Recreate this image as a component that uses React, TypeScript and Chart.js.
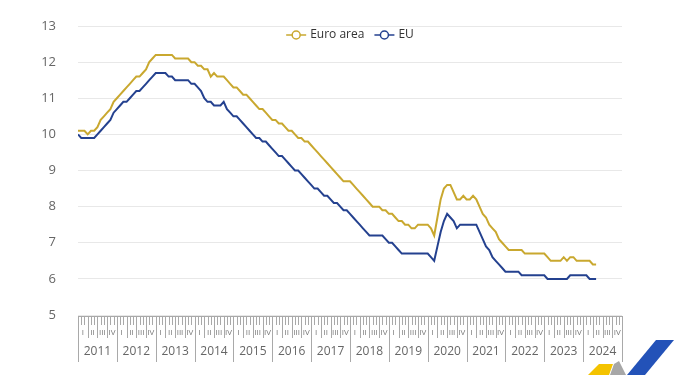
import { useEffect, useRef } from 'react';
import { Chart, registerables } from 'chart.js';

Chart.register(...registerables);

const YEARS = ['2011', '2012', '2013', '2014', '2015', '2016', '2017', '2018', '2019', '2020', '2021', '2022', '2023', '2024'];
const QUARTERS = ['I', 'II', 'III', 'IV'];
const SERIES_NAMES = ['Euro area', 'EU'];
const Y_MIN = 5;
const Y_MAX = 13;

// Monthly unemployment rate, Jan 2011 - May 2024
const EURO_AREA = [
  10.1, 10.1, 10.1, 10.0, 10.1, 10.1, 10.2, 10.4, 10.5, 10.6, 10.7, 10.9,
  11.0, 11.1, 11.2, 11.3, 11.4, 11.5, 11.6, 11.6, 11.7, 11.8, 12.0, 12.1,
  12.2, 12.2, 12.2, 12.2, 12.2, 12.2, 12.1, 12.1, 12.1, 12.1, 12.1, 12.0,
  12.0, 11.9, 11.9, 11.8, 11.8, 11.6, 11.7, 11.6, 11.6, 11.6, 11.5, 11.4,
  11.3, 11.3, 11.2, 11.1, 11.1, 11.0, 10.9, 10.8, 10.7, 10.7, 10.6, 10.5,
  10.4, 10.4, 10.3, 10.3, 10.2, 10.1, 10.1, 10.0, 9.9, 9.9, 9.8, 9.8,
  9.7, 9.6, 9.5, 9.4, 9.3, 9.2, 9.1, 9.0, 8.9, 8.8, 8.7, 8.7,
  8.7, 8.6, 8.5, 8.4, 8.3, 8.2, 8.1, 8.0, 8.0, 8.0, 7.9, 7.9,
  7.8, 7.8, 7.7, 7.6, 7.6, 7.5, 7.5, 7.4, 7.4, 7.5, 7.5, 7.5,
  7.5, 7.4, 7.2, 7.7, 8.2, 8.5, 8.6, 8.6, 8.4, 8.2, 8.2, 8.3,
  8.2, 8.2, 8.3, 8.2, 8.0, 7.8, 7.7, 7.5, 7.4, 7.3, 7.1, 7.0,
  6.9, 6.8, 6.8, 6.8, 6.8, 6.8, 6.7, 6.7, 6.7, 6.7, 6.7, 6.7,
  6.7, 6.6, 6.5, 6.5, 6.5, 6.5, 6.6, 6.5, 6.6, 6.6, 6.5, 6.5,
  6.5, 6.5, 6.5, 6.4, 6.4,
];

const EU = [
  10.0, 9.9, 9.9, 9.9, 9.9, 9.9, 10.0, 10.1, 10.2, 10.3, 10.4, 10.6,
  10.7, 10.8, 10.9, 10.9, 11.0, 11.1, 11.2, 11.2, 11.3, 11.4, 11.5, 11.6,
  11.7, 11.7, 11.7, 11.7, 11.6, 11.6, 11.5, 11.5, 11.5, 11.5, 11.5, 11.4,
  11.4, 11.3, 11.2, 11.0, 10.9, 10.9, 10.8, 10.8, 10.8, 10.9, 10.7, 10.6,
  10.5, 10.5, 10.4, 10.3, 10.2, 10.1, 10.0, 9.9, 9.9, 9.8, 9.8, 9.7,
  9.6, 9.5, 9.4, 9.4, 9.3, 9.2, 9.1, 9.0, 9.0, 8.9, 8.8, 8.7,
  8.6, 8.5, 8.5, 8.4, 8.3, 8.3, 8.2, 8.1, 8.1, 8.0, 7.9, 7.9,
  7.8, 7.7, 7.6, 7.5, 7.4, 7.3, 7.2, 7.2, 7.2, 7.2, 7.2, 7.1,
  7.0, 7.0, 6.9, 6.8, 6.7, 6.7, 6.7, 6.7, 6.7, 6.7, 6.7, 6.7,
  6.7, 6.6, 6.5, 6.9, 7.3, 7.6, 7.8, 7.7, 7.6, 7.4, 7.5, 7.5,
  7.5, 7.5, 7.5, 7.5, 7.3, 7.1, 6.9, 6.8, 6.6, 6.5, 6.4, 6.3,
  6.2, 6.2, 6.2, 6.2, 6.2, 6.1, 6.1, 6.1, 6.1, 6.1, 6.1, 6.1,
  6.1, 6.0, 6.0, 6.0, 6.0, 6.0, 6.0, 6.0, 6.1, 6.1, 6.1, 6.1,
  6.1, 6.1, 6.0, 6.0, 6.0,
];

const EA_COLOR = '#c9a82f';
const EU_COLOR = '#24418f';
const FONT = '"Open Sans", "Noto Sans", sans-serif';

const decorPlugin = {
  id: 'decor',
  afterDraw(chart: any) {
    const ctx = chart.ctx as CanvasRenderingContext2D;
    const xs = chart.scales.x;
    const area = chart.chartArea;
    const top = Math.round(area.bottom) + 1;
    const nMonths = YEARS.length * 12;
    ctx.save();

    // Ruler axis
    ctx.strokeStyle = '#a9a9a9';
    ctx.lineWidth = 1;
    const x0 = Math.round(xs.getPixelForValue(0));
    const x1 = Math.round(xs.getPixelForValue(nMonths));
    ctx.beginPath();
    ctx.moveTo(x0, top + 0.5);
    ctx.lineTo(x1 + 1, top + 0.5);
    ctx.stroke();
    for (let m = 0; m <= nMonths; m++) {
      const x = Math.round(xs.getPixelForValue(m)) + 0.5;
      let len = 9;
      if (m % 12 === 0) len = 46;
      else if (m % 3 === 0) len = 22;
      ctx.beginPath();
      ctx.moveTo(x, top);
      ctx.lineTo(x, top + len);
      ctx.stroke();
    }
    ctx.textAlign = 'center';
    ctx.textBaseline = 'middle';
    ctx.fillStyle = '#777';
    ctx.font = `8px ${FONT}`;
    YEARS.forEach((_, yi) => {
      QUARTERS.forEach((q, qi) => {
        ctx.fillText(q, xs.getPixelForValue(yi * 12 + qi * 3 + 1.5), top + 17);
      });
    });
    ctx.font = `12px ${FONT}`;
    ctx.fillStyle = '#666';
    YEARS.forEach((y, yi) => {
      ctx.fillText(y, xs.getPixelForValue(yi * 12 + 6), top + 36);
    });

    // Legend
    ctx.font = `12px ${FONT}`;
    const ds = chart.data.datasets;
    const mw = 20, gap = 4, sep = 10;
    const widths = ds.map((d: any) => mw + gap + ctx.measureText(d.label).width);
    const total = widths.reduce((a: number, b: number) => a + b, 0) + sep * (ds.length - 1);
    let lx = (area.left + area.right) / 2 - total / 2;
    const ly = 35;
    ds.forEach((d: any, i: number) => {
      ctx.strokeStyle = d.borderColor;
      ctx.lineWidth = 1.5;
      ctx.beginPath();
      ctx.moveTo(lx, ly);
      ctx.lineTo(lx + mw, ly);
      ctx.stroke();
      ctx.beginPath();
      ctx.arc(lx + mw / 2, ly, 4, 0, Math.PI * 2);
      ctx.fillStyle = '#fff';
      ctx.fill();
      ctx.stroke();
      ctx.fillStyle = '#333';
      ctx.textAlign = 'left';
      ctx.fillText(d.label, lx + mw + gap, ly);
      lx += widths[i] + sep;
    });

    // Corner logo
    const poly = (pts: number[][], color: string) => {
      ctx.beginPath();
      ctx.moveTo(pts[0][0], pts[0][1]);
      pts.slice(1).forEach((p) => ctx.lineTo(p[0], p[1]));
      ctx.closePath();
      ctx.fillStyle = color;
      ctx.fill();
    };
    poly([[588, 375], [599, 364], [613, 364], [609, 375]], '#f4c300');
    poly([[610, 375], [614, 364], [619, 361], [626, 375]], '#a7a7a7');
    poly([[656, 340], [674, 340], [645, 375], [627, 375]], '#2352b8');

    ctx.restore();
  },
};

export default function App() {
  const ref = useRef<HTMLCanvasElement>(null);
  useEffect(() => {
    if (!ref.current) return;
    const chart = new Chart(ref.current, {
      type: 'line',
      data: {
        datasets: [
          {
            label: SERIES_NAMES[0],
            data: EURO_AREA.map((v, i) => ({ x: i, y: v })),
            borderColor: EA_COLOR,
            backgroundColor: EA_COLOR,
            borderWidth: 2,
            pointRadius: 0,
            tension: 0,
          },
          {
            label: SERIES_NAMES[1],
            data: EU.map((v, i) => ({ x: i, y: v })),
            borderColor: EU_COLOR,
            backgroundColor: EU_COLOR,
            borderWidth: 2,
            pointRadius: 0,
            tension: 0,
          },
        ],
      },
      options: {
        responsive: false,
        animation: false,
        layout: { padding: { top: 26, right: 58, bottom: 60, left: 0 } },
        plugins: { legend: { display: false }, tooltip: { enabled: false } },
        scales: {
          x: {
            type: 'linear',
            display: false,
            min: 0,
            max: YEARS.length * 12,
          },
          y: {
            min: Y_MIN,
            max: Y_MAX,
            afterFit: (s: any) => {
              s.width = 78;
            },
            border: { display: false },
            grid: { color: '#e8e8e8', drawTicks: true, tickLength: 22, tickColor: 'rgba(0,0,0,0)' },
            ticks: {
              stepSize: 1,
              padding: 0,
              color: '#666',
              font: { size: 13, family: FONT },
            },
          },
        },
      },
      plugins: [decorPlugin],
    });
    return () => chart.destroy();
  }, []);
  return (
    <div style={{ position: 'absolute', left: 0, top: 0, width: 680, height: 375, background: '#fff' }}>
      <canvas ref={ref} width={680} height={375} />
    </div>
  );
}
